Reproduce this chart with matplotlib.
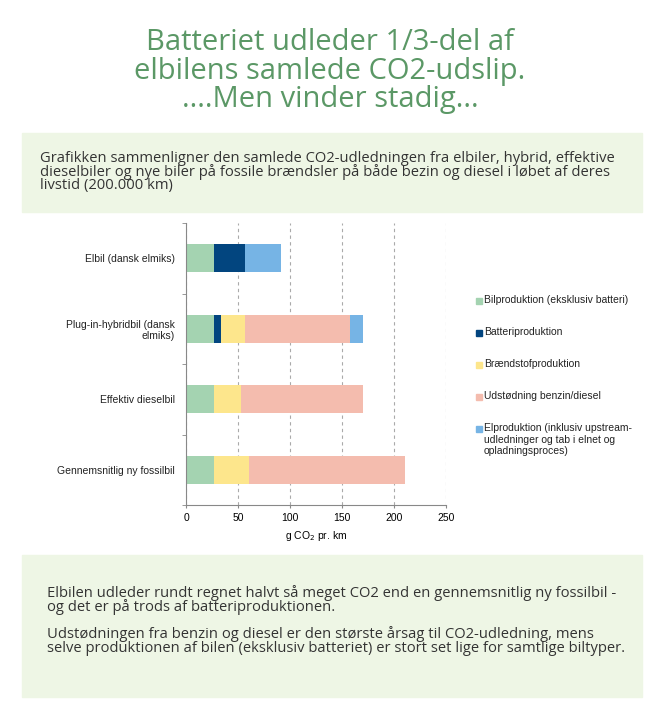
import numpy as np
import matplotlib.pyplot as plt
from matplotlib.patches import Rectangle

# Data (g CO2 pr. km)
categories = ['Elbil (dansk elmiks)', 'Plug-in-hybridbil (dansk\nelmiks)',
              'Effektiv dieselbil', 'Gennemsnitlig ny fossilbil']
bilproduktion = [27, 27, 27, 27]
batteriproduktion = [30, 7, 0, 0]
braendstof = [0, 22.5, 26, 33.5]
udstoedning = [0, 101, 117, 150]
elproduktion = [34, 13, 0, 0]

series = [bilproduktion, batteriproduktion, braendstof, udstoedning, elproduktion]
labels = ['Bilproduktion (eksklusiv batteri)', 'Batteriproduktion',
          'Brændstofproduktion', 'Udstødning benzin/diesel',
          'Elproduktion (inklusiv upstream-\nudledninger og tab i elnet og\nopladningsproces)']
colors = ['#a4d3b1', '#02457f', '#fde68c', '#f4bcae', '#76b4e5']

W, H = 660, 705
fig = plt.figure(figsize=(W / 100, H / 100), dpi=100)
fig.patch.set_facecolor('white')

# Background boxes
box_color = '#eef6e5'
fig.patches.append(Rectangle((22 / W, 1 - 212 / H), 620 / W, 79 / H,
                             transform=fig.transFigure, color=box_color, zorder=0))
fig.patches.append(Rectangle((22 / W, 1 - 697 / H), 620 / W, 142 / H,
                             transform=fig.transFigure, color=box_color, zorder=0))

# Title
fig.text(330 / W, 1 - 71 / H,
         'Batteriet udleder 1/3-del af\nelbilens samlede CO2-udslip.\n....Men vinder stadig...',
         ha='center', va='center', fontsize=21, color='#5b9866',
         family='Open Sans', linespacing=1.0)

body_kw = dict(ha='left', va='center', fontsize=10.65, color='#333333', family='Open Sans',
               linespacing=0.82)
fig.text(40 / W, 1 - 172 / H,
         'Grafikken sammenligner den samlede CO2-udledningen fra elbiler, hybrid, effektive\n'
         'dieselbiler og nye biler på fossile brændsler på både bezin og diesel i løbet af deres\n'
         'livstid (200.000 km)', **body_kw)
fig.text(47 / W, 1 - 600 / H,
         'Elbilen udleder rundt regnet halvt så meget CO2 end en gennemsnitlig ny fossilbil -\n'
         'og det er på trods af batteriproduktionen.', **body_kw)
fig.text(47 / W, 1 - 641 / H,
         'Udstødningen fra benzin og diesel er den største årsag til CO2-udledning, mens\n'
         'selve produktionen af bilen (eksklusiv batteriet) er stort set lige for samtlige biltyper.',
         **body_kw)

# Chart
ax = fig.add_axes([186 / W, 1 - 505 / H, 260 / W, 282 / H])
y = np.arange(len(categories))
left = np.zeros(len(categories))
for vals, col in zip(series, colors):
    ax.barh(y, vals, left=left, height=0.4, color=col, zorder=2)
    left += np.array(vals)

ax.set_ylim(3.5, -0.5)
ax.set_xlim(0, 250)
ax.set_xticks([0, 50, 100, 150, 200, 250])
ax.set_yticks(y)
ax.set_yticklabels(categories, fontsize=7.5, family='Liberation Sans', color='#222222')
ax.set_yticks(np.arange(-0.5, 4, 1), minor=True)
ax.tick_params(axis='y', which='major', length=0, pad=8)
ax.tick_params(axis='y', which='minor', length=3, color='#888888')
ax.tick_params(axis='x', labelsize=7.5, length=2, color='#888888', pad=4)
for t in ax.get_xticklabels():
    t.set_family('Liberation Sans')
ax.xaxis.grid(True, linestyle=(0, (3, 3)), color='#aaaaaa', linewidth=0.8, zorder=0)
ax.set_axisbelow(True)
for s in ['top', 'right']:
    ax.spines[s].set_visible(False)
for s in ['left', 'bottom']:
    ax.spines[s].set_color('#888888')
ax.set_xlabel('g CO$_2$ pr. km', fontsize=7.5, family='Liberation Sans', labelpad=4)

# Legend: square aligned with first line of each label
leg_y = [301, 333, 365, 397, 429]
for ly, lab, col in zip(leg_y, labels, colors):
    fig.patches.append(Rectangle((476 / W, 1 - (ly + 3) / H), 6 / W, 6 / H,
                                 transform=fig.transFigure, color=col))
    fig.text(484 / W, 1 - (ly - 6) / H, lab, ha='left', va='top', fontsize=7.5,
             family='Liberation Sans', color='#222222', linespacing=1.2)

fig.savefig('out.png', dpi=100)
